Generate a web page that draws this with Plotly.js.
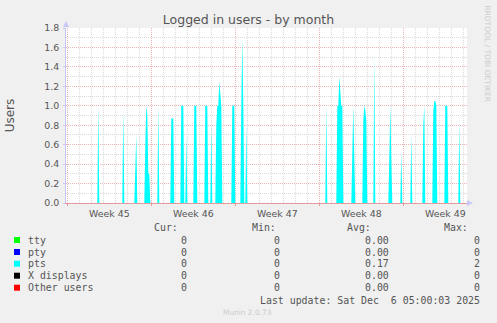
<!DOCTYPE html>
<html><head><meta charset="utf-8">
<script src="https://cdn.plot.ly/plotly-3.0.1.min.js"></script>
<style>html,body{margin:0;padding:0;background:#f0f0f0;}#chart{width:497px;height:323px;}</style>
</head><body><div id="chart"></div>
<script>
// ---- data ----
const ptsTimes = [
 "2025-11-02 20:00",
 "2025-11-05 12:00","2025-11-05 14:00","2025-11-05 16:00",
 "2025-11-07 14:00","2025-11-07 16:00","2025-11-07 18:00",
 "2025-11-08 14:00","2025-11-08 16:00","2025-11-08 18:00","2025-11-08 20:00",
 "2025-11-09 10:00","2025-11-09 12:00","2025-11-09 14:00","2025-11-09 16:00","2025-11-09 18:00","2025-11-09 20:00","2025-11-09 22:00",
 "2025-11-10 12:00","2025-11-10 14:00","2025-11-10 16:00",
 "2025-11-11 14:00","2025-11-11 16:00","2025-11-11 18:00","2025-11-11 20:00","2025-11-11 22:00",
 "2025-11-12 10:00","2025-11-12 12:00","2025-11-12 14:00","2025-11-12 16:00","2025-11-12 18:00",
 "2025-11-12 20:00","2025-11-12 22:00","2025-11-13 00:00",
 "2025-11-13 12:00","2025-11-13 14:00","2025-11-13 16:00","2025-11-13 18:00","2025-11-13 20:00",
 "2025-11-14 10:00","2025-11-14 12:00","2025-11-14 14:00","2025-11-14 16:00","2025-11-14 18:00",
 "2025-11-14 22:00","2025-11-15 00:00","2025-11-15 02:00",
 "2025-11-15 08:00","2025-11-15 10:00","2025-11-15 12:00","2025-11-15 14:00","2025-11-15 16:00","2025-11-15 18:00","2025-11-15 20:00","2025-11-15 22:00",
 "2025-11-16 16:00","2025-11-16 18:00","2025-11-16 20:00","2025-11-16 22:00","2025-11-17 00:00",
 "2025-11-17 10:00","2025-11-17 12:00","2025-11-17 14:00","2025-11-17 16:00","2025-11-17 18:00",
 "2025-11-17 20:00","2025-11-17 22:00","2025-11-18 00:00",
 "2025-11-24 12:00","2025-11-24 14:00","2025-11-24 16:00",
 "2025-11-25 10:00","2025-11-25 12:00","2025-11-25 14:00","2025-11-25 16:00","2025-11-25 18:00","2025-11-25 20:00","2025-11-25 22:00","2025-11-26 00:00",
 "2025-11-26 16:00","2025-11-26 18:00","2025-11-26 20:00","2025-11-26 22:00","2025-11-27 00:00",
 "2025-11-27 14:00","2025-11-27 16:00","2025-11-27 18:00","2025-11-27 20:00","2025-11-27 22:00","2025-11-28 00:00",
 "2025-11-28 12:00","2025-11-28 14:00","2025-11-28 16:00",
 "2025-11-29 18:00","2025-11-29 20:00","2025-11-29 22:00","2025-11-30 00:00","2025-11-30 02:00",
 "2025-11-30 18:00","2025-11-30 20:00","2025-11-30 22:00",
 "2025-12-01 14:00","2025-12-01 16:00","2025-12-01 18:00",
 "2025-12-02 14:00","2025-12-02 16:00","2025-12-02 18:00","2025-12-02 20:00",
 "2025-12-03 10:00","2025-12-03 12:00","2025-12-03 14:00","2025-12-03 16:00","2025-12-03 18:00","2025-12-03 20:00",
 "2025-12-04 10:00","2025-12-04 12:00","2025-12-04 14:00","2025-12-04 16:00","2025-12-04 18:00",
 "2025-12-05 14:00","2025-12-05 16:00","2025-12-05 18:00",
 "2025-12-06 08:00"
];
const ptsValues = [
 0,
 0,1.0,0,
 0,0.95,0,
 0,0.35,0.7,0,
 0,0.6,1.0,0.9,0.3,0.3,0,
 0,1.0,0,
 0,0.87,0.87,0.87,0,
 0,1.0,1.0,1.0,0,
 0,0.7,0,
 0,1.0,1.0,1.0,0,
 0,1.0,1.0,1.0,0,
 0,0.8,0,
 0,0.8,1.0,1.0,1.25,1.1,1.0,0,
 0,1.0,1.0,1.0,0,
 0,1.0,1.7,1.0,0,
 0,0.8,0,
 0,1.0,0,
 0,1.0,1.0,1.3,1.15,1.0,1.0,0,
 0,0.5,1.0,0.45,0,
 0,0.85,1.0,0.95,0.85,0,
 0,1.5,0,
 0,0.45,1.0,0.45,0,
 0,0.52,0,
 0,0.7,0,
 0,0.8,1.0,0,
 0,0.95,1.05,1.05,1.0,0,
 0,1.0,1.0,1.0,0,
 0,0.83,0,
 0
];
const flatTimes = ["2025-11-02 20:00","2025-12-06 08:00"];
const ttyValues = [0,0];
const ptyValues = [0,0];
const xdispValues = [0,0];
const otherValues = [0,0];

const seriesNames = ["tty","pty","pts","X displays","Other users"];
const seriesColors = ["#00ff00","#0000ff","#00ffff","#000000","#ff0000"];
const curVals = ["0","0","0","0","0"];
const minVals = ["0","0","0","0","0"];
const avgVals = ["0.00","0.00","0.17","0.00","0.00"];
const maxVals = ["0","0","2","0","0"];

const weekTickVals = ["2025-11-06 12:00","2025-11-13 12:00","2025-11-20 12:00","2025-11-27 12:00","2025-12-04 12:00"];
const weekLabels = ["Week 45","Week 46","Week 47","Week 48","Week 49"];
const mondayVals = ["2025-11-03","2025-11-10","2025-11-17","2025-11-24","2025-12-01"];
const yTickVals = [0,0.2,0.4,0.6,0.8,1.0,1.2,1.4,1.6,1.8];
const yTickText = ["0.0","0.2","0.4","0.6","0.8","1.0","1.2","1.4","1.6","1.8"];
const xRange = ["2025-11-02 21:24","2025-12-06 07:24"];

// ---- geometry helpers ----
const L=66, R=467, T=28, B=203;
const px = x => (x-L)/(R-L);
const py = y => (B-y)/(B-T);

const traces = [];
const allVals = [ttyValues, ptyValues, ptsValues, xdispValues, otherValues];
seriesNames.forEach((n,i)=>{
  const isPts = n === "pts";
  traces.push({
    x: isPts ? ptsTimes : flatTimes,
    y: allVals[i],
    name: n, type:"scatter", mode:"lines",
    line:{width:0, color:seriesColors[i]},
    fill:"tozeroy", fillcolor:seriesColors[i],
    xaxis: isPts ? "x" : "x2",
    showlegend:false, hoverinfo:"skip"
  });
});

const textColor = "#555555";
const mono = "DejaVu Sans Mono";
const annotations = [];
const shapes = [];
function ann(text, x, y, xanchor, opts){
  annotations.push(Object.assign({text, x:px(x), y:py(y), xref:"paper", yref:"paper",
    xanchor, yanchor:"middle", showarrow:false,
    font:{family:mono, size:9.9, color:textColor}}, opts||{}));
}
const colRight = [189.3, 281.7, 390.7, 482.3];
const headRight = [180, 277.7, 373.3, 470];
["Cur:","Min:","Avg:","Max:"].forEach((h,i)=>ann(h, headRight[i], 227.3, "right"));
const rowY = [240, 252, 263.7, 275.7, 287.7];
seriesNames.forEach((n,i)=>{
  const y=rowY[i];
  shapes.push({type:"rect", xref:"paper", yref:"paper", x0:px(14), x1:px(20), y0:py(y+3), y1:py(y-3),
    fillcolor:seriesColors[i], line:{width:0}});
  ann(n, 26.3, y, "left");
  [curVals[i],minVals[i],avgVals[i],maxVals[i]].forEach((v,j)=>ann(v, colRight[j], y, "right"));
});
ann("Last update: Sat Dec\u00a0\u00a06 05:00:03 2025", 482.3, 300, "right");
ann("Munin 2.0.73", 247.7, 312, "center", {font:{family:"DejaVu Sans", size:7.4, color:"#cccccc"}});
ann("RRDTOOL / TOBI OETIKER", 488, 53.4, "center", {textangle:90, font:{family:"DejaVu Sans", size:7.5, color:"#cccccc"}});

// axis arrows
shapes.push({type:"path", xref:"paper", yref:"paper",
  path:`M ${px(63)} ${py(27)} L ${px(69)} ${py(27)} L ${px(66)} ${py(21)} Z`, fillcolor:"#c8c8f8", line:{width:0}});
shapes.push({type:"path", xref:"paper", yref:"paper",
  path:`M ${px(467)} ${py(200)} L ${px(467)} ${py(206)} L ${px(473)} ${py(203)} Z`, fillcolor:"#c8c8f8", line:{width:0}});

const gridRed = "#ecb4b4", gridGray = "#d9d9d9", dots = "1px,1px";
const tickFont = {family:"DejaVu Sans", size:9.4, color:textColor};

const layout = {
  width:497, height:323,
  margin:{l:L, r:497-R, t:T, b:323-B, pad:0},
  paper_bgcolor:"#f0f0f0", plot_bgcolor:"#ffffff",
  showlegend:false, hovermode:false,
  title:{text:"Logged in users - by month", x:0.5, xanchor:"center", y:1-19.3/323, yanchor:"middle",
    font:{family:"DejaVu Sans", size:12.5, color:textColor}},
  xaxis:{type:"date", range:xRange, tickmode:"array", tickvals:weekTickVals, ticktext:weekLabels,
    showgrid:false, zeroline:false, ticks:"", tickfont:tickFont, ticklabelstandoff:2,
    showline:true, linecolor:"#e49a9a", linewidth:1},
  xaxis2:{type:"date", range:xRange, overlaying:"x", anchor:"y", side:"bottom",
    tickmode:"array", tickvals:mondayVals, showticklabels:false,
    showgrid:true, gridcolor:gridRed, griddash:dots, gridwidth:1, zeroline:false,
    ticks:"outside", ticklen:2, tickcolor:"#e49a9a",
    minor:{tickmode:"linear", tick0:"2025-11-03", dtick:86400000, showgrid:true, gridcolor:gridGray, griddash:dots, gridwidth:1, ticks:""}},
  yaxis:{range:[0,1.8], tickmode:"array", tickvals:yTickVals, ticktext:yTickText,
    showgrid:true, gridcolor:gridRed, griddash:dots, gridwidth:1, zeroline:false,
    ticks:"outside", ticklen:2, tickcolor:"#c8c8f8", tickfont:tickFont, ticklabelstandoff:2,
    showline:true, linecolor:"#c8c8f8", linewidth:1,
    minor:{tickmode:"linear", tick0:0, dtick:0.1, showgrid:true, gridcolor:gridGray, griddash:dots, gridwidth:1},
    title:{text:"Users", font:{family:"DejaVu Sans", size:12, color:textColor}, standoff:26}},
  annotations, shapes
};
Plotly.newPlot("chart", traces, layout, {staticPlot:true, displayModeBar:false});
</script></body></html>
